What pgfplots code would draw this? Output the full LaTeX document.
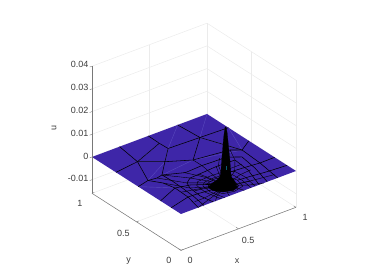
\documentclass[border=0pt]{standalone}
\usepackage{pgfplots}
\pgfplotsset{compat=1.18}
\usepackage{fontspec}
\setmainfont{Liberation Sans}
\definecolor{plate}{RGB}{62,38,168}
\definecolor{txt}{RGB}{60,60,60}
\definecolor{axl}{RGB}{120,120,120}
\definecolor{facet}{RGB}{88,72,190}
\newcommand\M[1]{\addplot3[black,line width=0.55pt,line join=round] coordinates {#1};}
\newcommand\N[1]{\addplot3[black,line width=0.4pt,line join=round] coordinates {#1};}
\newcommand\Q[1]{\addplot3[facet,line width=0.4pt] coordinates {#1};}
\newcommand\T[1]{\addplot3[axl,line width=0.4pt] coordinates {#1};}
\begin{document}
\begin{tikzpicture}
\begin{axis}[
  x={(115pt,43pt)},y={(-89pt,57pt)},z={(0pt,2270pt)},
  xmin=0,xmax=1,ymin=0,ymax=1,zmin=-0.016,zmax=0.04,
  clip=false,
  scaled z ticks=false,
  xtick={0,0.5,1},ytick={0,0.5,1},ztick={-0.01,0,0.01,0.02,0.03,0.04},
  xticklabels={0,0.5,1},yticklabels={0,0.5,1},
  zticklabels={-0.01,0,0.01,0.02,0.03,0.04},
  grid=major,
  major grid style={black!8,line width=0.5pt},
  axis line style={draw=none},
  tick style={draw=none},
  ticklabel style={font=\fontsize{9}{10}\selectfont,text=txt},
  xticklabel style={xshift=5pt,yshift=-3pt},
  yticklabel style={xshift=-7pt,yshift=-2.5pt},
  label style={font=\fontsize{9}{10}\selectfont,text=txt},
  xlabel={x},ylabel={y},zlabel={u},
  xlabel style={xshift=-17pt,yshift=-4pt},
  ylabel style={xshift=13pt,yshift=-9pt},
  zlabel style={xshift=-2pt,yshift=4pt},
]
\addplot3[fill=plate,draw=none] coordinates {(0,0,0)(1,0,0)(1,1,0)(0,1,0)(0,0,0)};
% faint facet diagonals
\Q{(0.2095,0.7595,0)(0.487,0.873,0)}
\Q{(0.2095,0.7595,0)(0.36,0.646,0)(0.491,0.779,0)}
\Q{(0.106,0.508,0)(0.36,0.646,0)}
\Q{(0.491,0.779,0)(0.745,1,0)}
\Q{(0.76,0.769,0)(1,1,0)}
\Q{(0.76,0.769,0)(0.884,0.456,0)(1,0.76,0)}
\Q{(0.529,0.548,0)(0.884,0.456,0)}
\Q{(0.23,0.511,0)(0.529,0.548,0)}
\Q{(0,0.48,0)(0.19,0.313,0)}
% coarse mesh
\M{(0,0.73,0)(0.2095,0.7595,0)(0.24,1,0)}
\M{(0.2095,0.7595,0)(0.487,0.873,0)(0.49,1,0)}
\M{(0.487,0.873,0)(0.491,0.779,0)(0.76,0.769,0)(1,0.76,0)}
\M{(0.745,1,0)(0.76,0.769,0)(0.529,0.548,0)}
\M{(0.491,0.779,0)(0.36,0.646,0)(0.2095,0.7595,0)}
\M{(0.36,0.646,0)(0.529,0.548,0)(0.818,0.506,0)(0.884,0.456,0)(1,0.53,0)}
\M{(0.76,0.769,0)(0.884,0.456,0)}
\M{(0.36,0.646,0)(0.23,0.511,0)(0.177,0.498,0)(0.106,0.508,0)(0.2095,0.7595,0)}
\M{(0,0.48,0)(0.106,0.508,0)(0.167,0.418,0)(0.19,0.313,0)(0.184,0.159,0)(0.15,0,0)}
\M{(0,0.23,0)(0.19,0.313,0)(0.298,0.284,0)(0.38,0.23,0)(0.45,0.18,0)}
\M{(0,0.11,0)(0.184,0.159,0)(0.27,0.155,0)(0.38,0.14,0)(0.45,0.14,0)}
% outer rings
\M{(0.84,0,0)(0.871,0.238,0)(0.884,0.456,0)}
\M{(0.75,0,0)(0.8,0.203,0)(0.824,0.379,0)(0.74,0.44,0)(0.53,0.45,0)(0.38,0.44,0)(0.23,0.511,0)(0.235,0.4,0)(0.23,0.28,0)(0.22,0.14,0)(0.2,0,0)}
\M{(0.68,0,0)(0.745,0.21,0)(0.759,0.374,0)(0.6,0.38,0)(0.49,0.37,0)(0.358,0.361,0)(0.299,0.319,0)(0.272,0.251,0)(0.26,0.12,0)(0.28,0,0)}
\N{(0.645,0,0)(0.67,0.14,0)(0.66,0.25,0)(0.6,0.29,0)(0.49,0.30,0)(0.37,0.29,0)(0.33,0.25,0)(0.32,0.14,0)(0.35,0,0)}
\N{(0.61,0,0)(0.625,0.12,0)(0.62,0.22,0)(0.57,0.255,0)(0.49,0.265,0)(0.40,0.255,0)(0.36,0.22,0)(0.35,0.12,0)(0.38,0,0)}
% radial lines
\M{(1,0.24,0)(0.871,0.238,0)(0.735,0.253,0)(0.629,0.262,0)(0.56,0.2,0)}
\M{(1,0.1,0)(0.86,0.11,0)(0.77,0.12,0)(0.7,0.13,0)(0.6,0.14,0)}
\N{(0.177,0.498,0)(0.299,0.319,0)(0.38,0.26,0)(0.44,0.2,0)}
\N{(0.23,0.511,0)(0.358,0.361,0)(0.42,0.27,0)(0.46,0.2,0)}
\N{(0.167,0.418,0)(0.272,0.251,0)(0.36,0.2,0)(0.43,0.17,0)}
\N{(0.529,0.548,0)(0.53,0.45,0)(0.52,0.37,0)(0.51,0.3,0)(0.5,0.2,0)}
\N{(0.818,0.506,0)(0.759,0.374,0)(0.66,0.25,0)(0.55,0.18,0)}
\N{(0.37,0.45,0)(0.42,0.36,0)(0.45,0.3,0)(0.47,0.2,0)}
\N{(0.69,0.46,0)(0.62,0.38,0)(0.57,0.28,0)(0.52,0.2,0)}
\N{(0.76,0.3,0)(0.66,0.3,0)(0.6,0.23,0)(0.55,0.17,0)}
\N{(0.3,0,0)(0.35,0.05,0)(0.42,0.09,0)(0.46,0.12,0)}
\N{(0.42,0,0)(0.44,0.05,0)(0.47,0.1,0)}
\N{(0.55,0,0)(0.53,0.05,0)(0.51,0.1,0)}
\N{(0.72,0,0)(0.62,0.04,0)(0.55,0.09,0)(0.52,0.12,0)}
\N{(0.85,0.05,0)(0.72,0.07,0)(0.6,0.09,0)(0.54,0.12,0)}
\N{(0.272,0.2,0)(0.33,0.19,0)(0.4,0.16,0)}
\N{(0.19,0.24,0)(0.28,0.215,0)(0.36,0.19,0)(0.43,0.16,0)}
\N{(0.18,0.08,0)(0.26,0.08,0)(0.33,0.09,0)(0.42,0.11,0)}
\N{(0.15,0,0)(0.26,0.04,0)(0.35,0.07,0)(0.42,0.1,0)}
\N{(0.44,0.37,0)(0.46,0.3,0)(0.475,0.22,0)}
\N{(0.6,0.38,0)(0.56,0.3,0)(0.52,0.22,0)}
\N{(0.76,0.2,0)(0.66,0.19,0)(0.57,0.16,0)}
\N{(0.66,0.08,0)(0.58,0.1,0)}
% inner rings
\N{(0.60,0.14,0)(0.578,0.228,0)(0.49,0.25,0)(0.402,0.228,0)(0.38,0.14,0)(0.402,0.052,0)(0.49,0.03,0)(0.578,0.052,0)(0.60,0.14,0)}
\N{(0.575,0.14,0)(0.558,0.208,0)(0.49,0.225,0)(0.422,0.208,0)(0.405,0.14,0)(0.422,0.072,0)(0.49,0.055,0)(0.558,0.072,0)(0.575,0.14,0)}
% base blob and spike
\addplot3[fill=black,draw=black,line width=0.3pt] coordinates {(0.544,0.063,0)(0.55,0.12,0)(0.505,0.18,0)(0.435,0.207,0)(0.38,0.187,0)(0.374,0.13,0)(0.419,0.07,0)(0.489,0.043,0)(0.544,0.063,0)};
\addplot3[fill=black,draw=black,line width=0.2pt] coordinates {(0.4911,0.1392,0.02555)(0.4862,0.1429,0.0229)(0.4818,0.1462,0.0198)(0.4774,0.1495,0.0154)(0.4724,0.1532,0.011)(0.468,0.1566,0.0057)(0.4626,0.1607,0.0035)(0.4461,0.1731,0.0022)(0.4186,0.1938,0.0004)(0.402,0.206,0)(0.561,0.086,0)(0.5504,0.0945,0.0004)(0.5394,0.1027,0.0022)(0.5257,0.1131,0.0035)(0.5218,0.116,0.0057)(0.5175,0.1193,0.011)(0.512,0.1234,0.0154)(0.5065,0.1276,0.0198)(0.5026,0.1305,0.0229)(0.4966,0.135,0.02555)(0.4911,0.1392,0.02555)};
\addplot3[color={rgb,255:red,10;green,90;blue,106},line width=0.8pt] coordinates {(0.501,0.1317,0.0065)(0.501,0.1317,0.0085)};
% axis lines
\addplot3[axl,line width=0.5pt] coordinates {(0,0,-0.016)(1,0,-0.016)};
\addplot3[axl,line width=0.5pt] coordinates {(0,0,-0.016)(0,1,-0.016)};
\addplot3[axl,line width=0.5pt] coordinates {(0,1,-0.016)(0,1,0.04)};
% ticks
\T{(0,0,-0.016)(0,0.025,-0.016)}
\T{(0.5,0,-0.016)(0.5,0.025,-0.016)}
\T{(1,0,-0.016)(1,0.025,-0.016)}
\T{(0,0,-0.016)(0.02,0,-0.016)}
\T{(0,0.5,-0.016)(0.02,0.5,-0.016)}
\T{(0,1,-0.016)(0.02,1,-0.016)}
\T{(0,1,-0.01)(-0.02,1,-0.01)}
\T{(0,1,0)(-0.02,1,0)}
\T{(0,1,0.01)(-0.02,1,0.01)}
\T{(0,1,0.02)(-0.02,1,0.02)}
\T{(0,1,0.03)(-0.02,1,0.03)}
\T{(0,1,0.04)(-0.02,1,0.04)}
\coordinate (O) at (axis cs:0,0,0);
\end{axis}
\path ([shift={(-181pt,-66pt)}]O) rectangle ([shift={(192pt,214pt)}]O);
\end{tikzpicture}
\end{document}
